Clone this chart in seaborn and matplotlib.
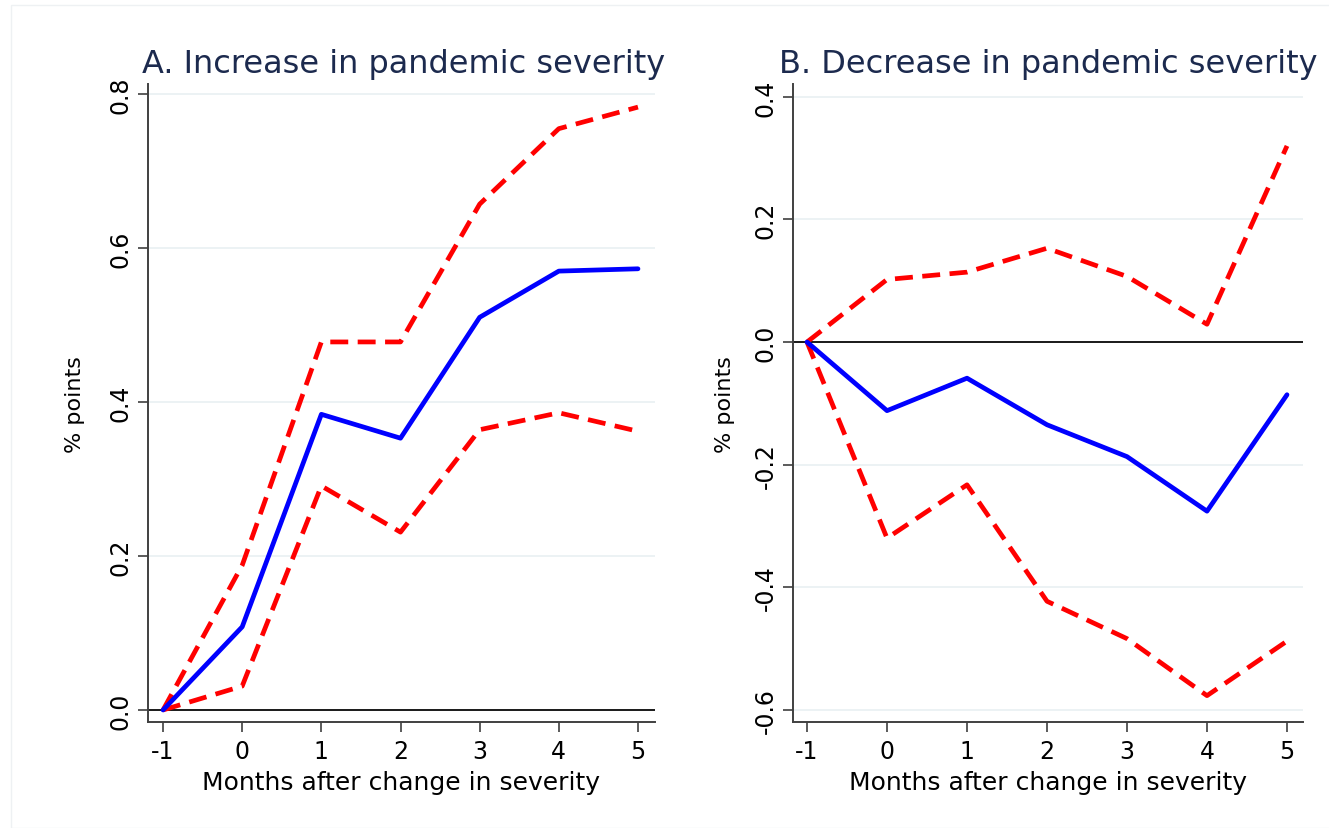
import matplotlib
matplotlib.use("Agg")
import matplotlib.pyplot as plt
import seaborn as sns
from matplotlib.patches import Rectangle

# Event-study estimates
months = [-1, 0, 1, 2, 3, 4, 5]

inc_coef = [0.0, 0.108, 0.384, 0.353, 0.510, 0.570, 0.573]
inc_upper = [0.0, 0.188, 0.478, 0.478, 0.657, 0.755, 0.783]
inc_lower = [0.0, 0.031, 0.291, 0.231, 0.364, 0.386, 0.362]

dec_coef = [0.0, -0.112, -0.059, -0.135, -0.187, -0.276, -0.086]
dec_upper = [0.0, 0.102, 0.114, 0.153, 0.107, 0.029, 0.320]
dec_lower = [0.0, -0.320, -0.233, -0.423, -0.484, -0.577, -0.488]

inc_yticks = [0.0, 0.2, 0.4, 0.6, 0.8]
dec_yticks = [-0.6, -0.4, -0.2, 0.0, 0.2, 0.4]

titles = ["A. Increase in pandemic severity", "B. Decrease in pandemic severity"]
xlabel = "Months after change in severity"
ylabel = "% points"

sns.set_theme(style="white")
plt.rcParams['font.family'] = ['DejaVu Sans']

W, H = 1329, 829
fig = plt.figure(figsize=(W / 100, H / 100), dpi=100)
fig.patch.set_facecolor("white")

# faint outer frame of the graph region
fig.patches.append(Rectangle((11 / W, 0.0), 1.0, 1 - 6 / H, transform=fig.transFigure,
                             fill=False, edgecolor="#eef1f3", linewidth=1.0))


def px_axes(left, top, right, bottom):
    return fig.add_axes([left / W, 1 - bottom / H, (right - left) / W, (bottom - top) / H])


panels = [
    dict(ax=px_axes(148, 85, 655, 723), coef=inc_coef, up=inc_upper, lo=inc_lower,
         yticks=inc_yticks, ylim=(-0.0156, 0.813), xlim=(-1.19, 5.215), title_x=142, ylab_x=75),
    dict(ax=px_axes(793, 85, 1303, 723), coef=dec_coef, up=dec_upper, lo=dec_lower,
         yticks=dec_yticks, ylim=(-0.62, 0.421), xlim=(-1.175, 5.2), title_x=779, ylab_x=725),
]

red = "#ff0000"
blue = "#0000ff"
grid_col = "#e9f0f2"
spine_col = "#404040"

for p, title in zip(panels, titles):
    ax = p["ax"]
    ax.set_facecolor("white")
    for yt in p["yticks"]:
        ax.axhline(yt, color=grid_col, lw=1.2, zorder=0)
    ax.axhline(0, color="#1a1a1a", lw=1.4, zorder=1)

    sns.lineplot(x=months, y=p["up"], ax=ax, color=red, lw=3.4, zorder=3)
    sns.lineplot(x=months, y=p["lo"], ax=ax, color=red, lw=3.4, zorder=3)
    for ln in ax.lines[-2:]:
        ln.set_linestyle((0, (3.8, 2.0)))
    sns.lineplot(x=months, y=p["coef"], ax=ax, color=blue, lw=3.4, zorder=4)

    ax.set_xlim(*p["xlim"])
    ax.set_ylim(*p["ylim"])
    ax.set_xticks(months)
    ax.set_xticklabels([str(m) for m in months])
    ax.set_yticks(p["yticks"])
    ax.set_yticklabels([f"{v:.1f}" for v in p["yticks"]], rotation=90, va="center")

    for side in ["top", "right"]:
        ax.spines[side].set_visible(False)
    for side in ["left", "bottom"]:
        ax.spines[side].set_color(spine_col)
        ax.spines[side].set_linewidth(1.4)
    ax.tick_params(axis="both", which="major", direction="out", length=7, width=1.2,
                   color=spine_col, labelcolor="black")
    ax.tick_params(axis="x", bottom=True, labelsize=17, pad=5)
    ax.tick_params(axis="y", left=True, labelsize=17, pad=4)
    ax.set_xlabel(xlabel, fontsize=18, color="black", labelpad=5)
    ax.set_ylabel("")
    ax.grid(False)

    fig.text(p["title_x"] / W, 1 - 64 / H, title, fontsize=23, color="#1c2a4e",
             ha="left", va="center")
    fig.text(p["ylab_x"] / W, 1 - 405 / H, ylabel, fontsize=16, color="black",
             rotation=90, ha="center", va="center")

fig.savefig("out.png", dpi=100, facecolor="white")
